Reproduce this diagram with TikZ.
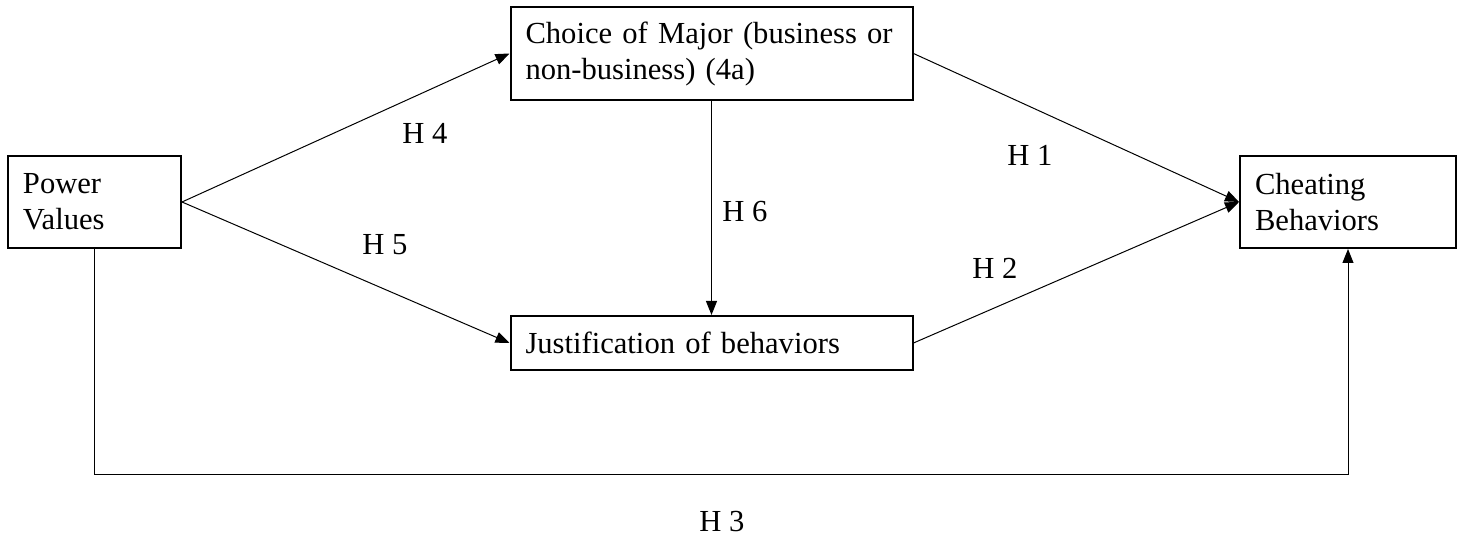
\documentclass[tikz,border=0pt]{standalone}
\usepackage{fontspec}
\setmainfont{Liberation Serif}
\usepackage{tikz}
\usetikzlibrary{arrows.meta, positioning, calc}
\tikzset{
  box/.style={rectangle, draw, line width=1pt, align=left, inner xsep=7.5pt, font=\fontsize{15.3}{18}\selectfont},
  link/.style={-{Triangle[length=7pt,width=5.5pt]}, line width=0.5pt},
  hyp/.style={font=\fontsize{15.3}{18}\selectfont},
}
\begin{document}
\begin{tikzpicture}[x=0.5pt, y=-0.5pt]
  \useasboundingbox (0,0) rectangle (1464,544);
  % Boxes
  \node[box, text width=71.5pt, minimum height=46pt] (power) at (94.5,202) {Power\\Values};
  \node[box, text width=186pt, minimum height=46.5pt] (major) at (711.5,53.5) {Choice of Major (business or\\non-business) (4a)};
  \node[box, text width=186pt, minimum height=27pt] (justify) at (711.5,343) {Justification of behaviors};
  \node[box, text width=93pt, minimum height=46pt] (cheat) at (1348,202) {Cheating\\Behaviors};
  \coordinate (bottom) at (0,475);

  % Paths
  \draw[link] (power.east) -- (major.west);
  \draw[link] (power.east) -- (justify.west);
  \draw[link] (major.east) -- (cheat.west);
  \draw[link] (justify.east) -- (cheat.west);
  \draw[link] (major.south) -- (justify.north);
  \draw[link] (power.south) -- (power.south |- bottom) -| (cheat.south);

  % Hypotheses
  \node[hyp] (h4) at (425,133) {H 4};
  \node[hyp] (h5) at (385,245) {H 5};
  \node[hyp] (h6) at (745,212) {H 6};
  \node[hyp] (h1) at (1030,155) {H 1};
  \node[hyp] (h2) at (995,268) {H 2};
  \node[hyp] (h3) at (722,522) {H 3};
\end{tikzpicture}
\end{document}
